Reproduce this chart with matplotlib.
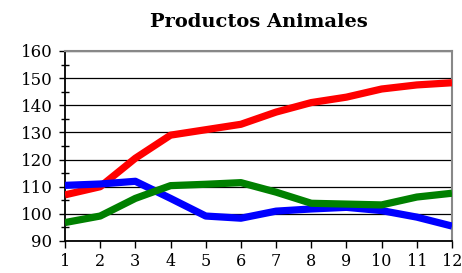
import matplotlib.pyplot as plt
from matplotlib.ticker import MultipleLocator

meses = [1, 2, 3, 4, 5, 6, 7, 8, 9, 10, 11, 12]
rojo = [107, 110, 120.5, 129, 131, 133, 137.5, 141, 143, 146, 147.5, 148.3]
azul = [110.5, 111, 112, 105.7, 99.2, 98.4, 101, 101.8, 102.4, 101.2, 98.8, 95.5]
verde = [96.8, 99.2, 105.7, 110.4, 110.9, 111.5, 108, 103.9, 103.6, 103.3, 106.2, 107.6]

plt.rcParams['font.family'] = ['DejaVu Serif']

fig = plt.figure(figsize=(4.62, 2.73), dpi=100)
ax = fig.add_axes([65/462, 32/273, 387/462, 190/273])

ax.plot(meses, rojo, color='#ff0000', lw=5.2, solid_capstyle='butt', zorder=3)
ax.plot(meses, azul, color='#0000ff', lw=5.2, solid_capstyle='butt', zorder=3)
ax.plot(meses, verde, color='#008000', lw=5.2, solid_capstyle='butt', zorder=4)

ax.set_xlim(1, 12)
ax.set_ylim(90, 160)
ax.set_xticks(meses)
ax.yaxis.set_major_locator(MultipleLocator(10))
ax.yaxis.set_minor_locator(MultipleLocator(5))
ax.grid(axis='y', color='black', lw=0.9)
ax.set_axisbelow(True)

for s in ['top', 'right']:
    ax.spines[s].set_color('#888888')
    ax.spines[s].set_linewidth(1.5)
for s in ['left', 'bottom']:
    ax.spines[s].set_linewidth(1.3)

ax.tick_params(axis='y', which='major', direction='out', length=4, width=1, labelsize=12, pad=5)
ax.tick_params(axis='y', which='minor', direction='inout', length=6, width=1)
ax.tick_params(axis='x', direction='out', length=5, width=1, labelsize=11.5, pad=4)

ax.set_title('Productos Animales', fontsize=14, fontweight='bold', pad=17)

fig.savefig('out.png', dpi=100)
